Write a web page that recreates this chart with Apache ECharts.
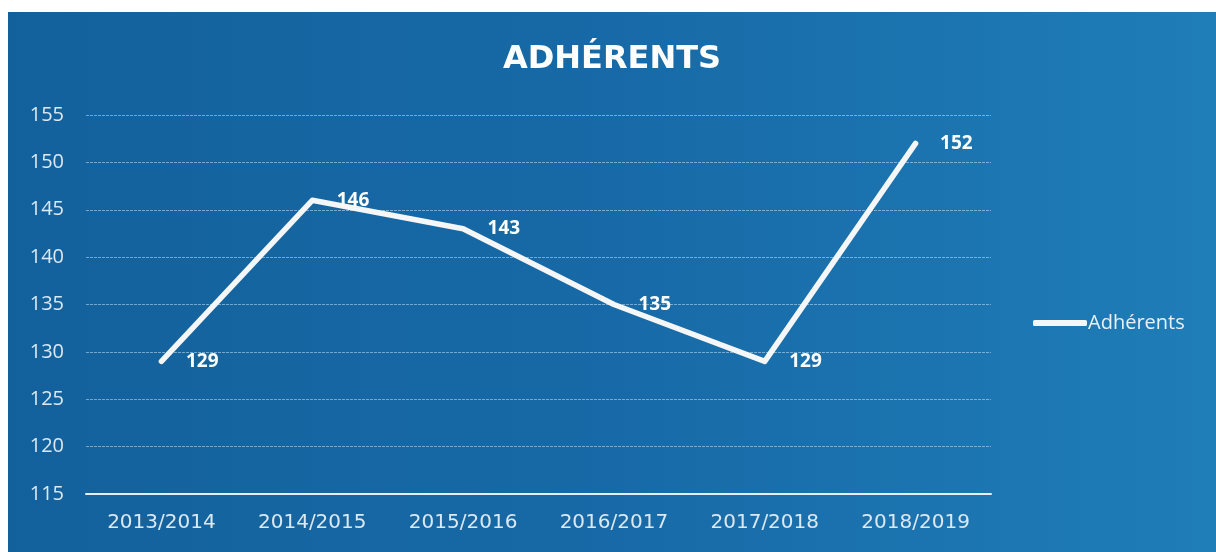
<!DOCTYPE html>
<html>
<head>
<meta charset="utf-8">
<script src="https://cdn.jsdelivr.net/npm/echarts@6/dist/echarts.min.js"></script>
<style>
html,body{margin:0;padding:0;background:#ffffff;width:1216px;height:552px;overflow:hidden;}
#c{position:absolute;left:8px;top:12px;width:1208px;height:540px;}
</style>
</head>
<body>
<div id="c"></div>
<script>
var categories = ['2013/2014','2014/2015','2015/2016','2016/2017','2017/2018','2018/2019'];
var adherents = [129, 146, 143, 135, 129, 152];
var seriesName = 'Adhérents';
var titleText = 'ADHÉRENTS';

var chart = echarts.init(document.getElementById('c'));
var font = '"Open Sans", "Liberation Sans", sans-serif';
var wide = '"DejaVu Sans", sans-serif';
chart.setOption({
  backgroundColor: new echarts.graphic.LinearGradient(0,0,1,0,[
    {offset:0,color:'#13619c'},
    {offset:0.5,color:'#176aa7'},
    {offset:1,color:'#1f7db7'}
  ]),
  animation:false,
  title:{
    text:titleText, left:'center', top:27,
    textStyle:{color:'#ffffff',fontSize:32,fontWeight:'bold',fontFamily:wide}
  },
  legend:{
    data:[seriesName], left:1020, top:296, orient:'vertical',
    itemWidth:54, itemHeight:6, itemGap:0,
    icon:'roundRect',
    textStyle:{color:'#e8f0f8',fontSize:20,fontFamily:font,padding:[0,0,0,-4]}
  },
  grid:{left:78,right:225,top:103,bottom:58},
  xAxis:{
    type:'category', data:categories, boundaryGap:true,
    axisLine:{lineStyle:{color:'#e6eef5',width:2}},
    axisTick:{show:false},
    axisLabel:{color:'#dce8f2',fontSize:20,fontFamily:wide,margin:19}
  },
  yAxis:{
    type:'value', min:115, max:155, interval:5,
    axisLine:{show:false}, axisTick:{show:false},
    axisLabel:{color:'#dce8f2',fontSize:20,fontFamily:font,margin:22},
    splitLine:{lineStyle:{color:'rgba(220,235,245,0.5)',width:1,type:[3,1]}}
  },
  series:[{
    name:seriesName, type:'line', data:adherents,
    showSymbol:true, symbol:'circle', symbolSize:1,
    lineStyle:{color:'#f4f6f8',width:5.5,cap:'round',join:'round'},
    itemStyle:{color:'#f4f6f8'},
    label:{show:true,position:'right',distance:24,color:'#ffffff',fontSize:19,fontWeight:'bold',fontFamily:font}
  }]
});
</script>
</body>
</html>
